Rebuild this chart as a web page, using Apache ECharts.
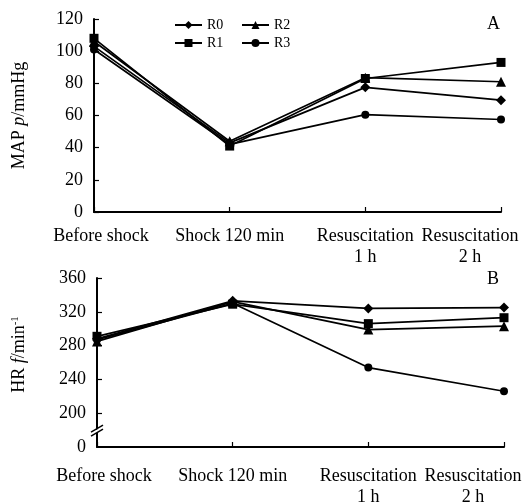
<!DOCTYPE html>
<html>
<head>
<meta charset="utf-8">
<script src="https://cdn.jsdelivr.net/npm/echarts@6/dist/echarts.min.js"></script>
<style>html,body{margin:0;padding:0;background:#fff}#c{width:522px;height:504px}</style>
</head>
<body>
<div id="c"></div>
<script>
var categories = ['Before shock', 'Shock 120 min', 'Resuscitation\n1 h', 'Resuscitation\n2 h'];
var seriesNames = ['R0', 'R1', 'R2', 'R3'];
var mapR0 = [103, 43, 77.5, 69.5];
var mapR1 = [108, 41, 83, 93];
var mapR2 = [106, 44, 83.5, 81];
var mapR3 = [101, 42, 60.5, 57.5];
var hrR0 = [288, 333, 324, 325];
var hrR1 = [291, 329, 306, 313];
var hrR2 = [285, 332, 299, 303];
var hrR3 = [287, 330, 254, 226];
var mapTicks = [0, 20, 40, 60, 80, 100, 120];
var hrTickLabels = {160: '0', 200: '200', 240: '240', 280: '280', 320: '320', 360: '360'};

var FONT = 'Liberation Serif';
var symbols = ['diamond', 'rect', 'triangle', 'circle'];
var symbolSizes = [10, 9, 10, 8];

var chart = echarts.init(document.getElementById('c'));

function catData() {
  return categories.map(function (c, i) {
    if (i === 0) return {value: c, textStyle: {padding: [0, 0, 0, 14]}};
    if (i === categories.length - 1) return {value: c, textStyle: {padding: [0, 62, 0, 0]}};
    return c;
  });
}

function xAxis(gi, margin) {
  return {
    type: 'category', gridIndex: gi, data: catData(), boundaryGap: false,
    axisLine: {lineStyle: {color: '#000', width: 2}},
    axisTick: {inside: true, length: 5, lineStyle: {color: '#000', width: 1.2}},
    axisLabel: {color: '#000', fontFamily: FONT, fontSize: 18, lineHeight: 21, margin: margin, interval: 0},
    splitLine: {show: false}
  };
}

function mkSeries(name, data, i, xi, yi) {
  return {
    name: name, type: 'line', xAxisIndex: xi, yAxisIndex: yi, data: data,
    symbol: symbols[i], symbolSize: symbolSizes[i], showSymbol: true,
    lineStyle: {color: '#000', width: 1.7},
    itemStyle: {color: '#000'},
    emphasis: {disabled: true}, animation: false
  };
}

var mapData = [mapR0, mapR1, mapR2, mapR3];
var hrData = [hrR0, hrR1, hrR2, hrR3];
var series = [];
seriesNames.forEach(function (n, i) { series.push(mkSeries(n, mapData[i], i, 0, 0)); });
seriesNames.forEach(function (n, i) { series.push(mkSeries(n, hrData[i], i, 1, 1)); });

var legendCommon = {
  orient: 'vertical', itemWidth: 27, itemHeight: 10, itemGap: 4, padding: 0,
  textStyle: {color: '#000', fontFamily: FONT, fontSize: 14},
  selectedMode: false
};

var option = {
  animation: false,
  backgroundColor: '#fff',
  textStyle: {fontFamily: FONT},
  grid: [
    {left: 94, right: 21, top: 19, height: 193, outerBoundsMode: 'none', containLabel: false},
    {left: 97, right: 18, top: 278, height: 169, outerBoundsMode: 'none', containLabel: false}
  ],
  legend: [
    Object.assign({left: 174, top: 18, data: ['R0', 'R1']}, legendCommon),
    Object.assign({left: 241, top: 18, data: ['R2', 'R3']}, legendCommon)
  ],
  xAxis: [xAxis(0, 14), xAxis(1, 19)],
  yAxis: [
    {
      type: 'value', gridIndex: 0, min: mapTicks[0], max: mapTicks[mapTicks.length - 1], interval: 20,
      name: '{a|MAP }{i|p}{a|/mmHg}', nameLocation: 'middle', nameGap: 66, nameRotate: 90,
      nameTextStyle: {rich: {a: {fontFamily: FONT, fontSize: 18, color: '#000'}, i: {fontFamily: FONT, fontSize: 18, fontStyle: 'italic', color: '#000'}}},
      axisLine: {show: true, lineStyle: {color: '#000', width: 2}},
      axisTick: {show: true, inside: true, length: 5, lineStyle: {color: '#000', width: 1.2}},
      axisLabel: {color: '#000', fontFamily: FONT, fontSize: 18, margin: 11},
      splitLine: {show: false}
    },
    {
      type: 'value', gridIndex: 1, min: 160, max: 360, interval: 40,
      name: '{a|HR }{i|f}{a|/min}{s|-1}', nameLocation: 'middle', nameGap: 68, nameRotate: 90,
      nameTextStyle: {padding: [0, 0, 0, 16], rich: {a: {fontFamily: FONT, fontSize: 18, color: '#000'}, i: {fontFamily: FONT, fontSize: 18, fontStyle: 'italic', color: '#000'}, s: {fontFamily: FONT, fontSize: 11, color: '#000', verticalAlign: 'top', padding: [0, 0, 8, 0]}}},
      axisLine: {show: true, lineStyle: {color: '#000', width: 2}},
      axisTick: {show: true, inside: true, length: 5, lineStyle: {color: '#000', width: 1.2},
        customValues: [200, 240, 280, 320, 360]},
      axisLabel: {color: '#000', fontFamily: FONT, fontSize: 18, margin: 11,
        formatter: function (v) { return hrTickLabels[v] !== undefined ? hrTickLabels[v] : ''; }},
      splitLine: {show: false}
    }
  ],
  series: series
};

chart.setOption(option);

// axis break mark on the lower y axis
var bx = chart.convertToPixel({xAxisIndex: 1}, 0);
var by = chart.convertToPixel({yAxisIndex: 1}, 180);
chart.setOption({
  graphic: [
    {type: 'text', left: 487, top: 15, style: {text: 'A', fontFamily: FONT, fontSize: 18, fill: '#000'}},
    {type: 'text', left: 487, top: 270, style: {text: 'B', fontFamily: FONT, fontSize: 18, fill: '#000'}},
    {type: 'polygon', z: 100, shape: {points: [[bx - 6, by + 3], [bx + 6, by - 4], [bx + 6, by - 1], [bx - 6, by + 6]]}, style: {fill: '#fff'}},
    {type: 'line', z: 101, shape: {x1: bx - 6, y1: by + 2, x2: bx + 6, y2: by - 5}, style: {stroke: '#000', lineWidth: 1.5}},
    {type: 'line', z: 101, shape: {x1: bx - 6, y1: by + 6, x2: bx + 6, y2: by - 1}, style: {stroke: '#000', lineWidth: 1.5}}
  ]
});
</script>
</body>
</html>
